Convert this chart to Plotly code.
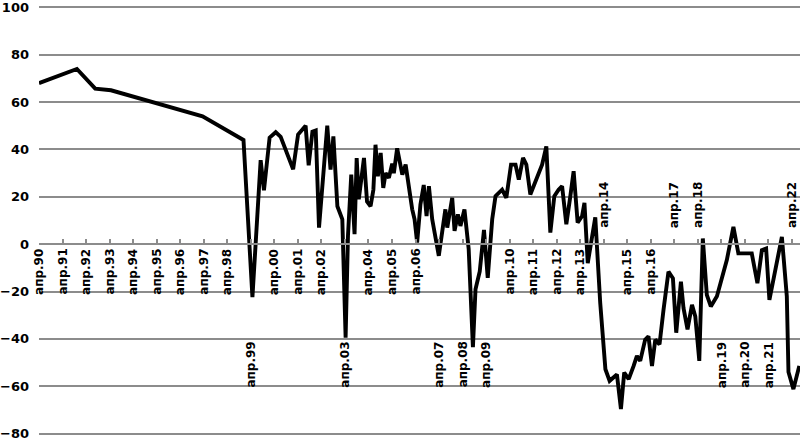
import plotly.graph_objects as go

# time as fractional years (апр.90 = 1990.25)
t = [1990.25, 1991.86, 1992.64, 1993.31, 1997.20, 1998.94,
     1999.32, 1999.67, 1999.81, 2000.05, 2000.31, 2000.52, 2001.05, 2001.26, 2001.58, 2001.71,
     2001.87, 2002.01, 2002.15, 2002.50, 2002.64, 2002.76, 2002.93, 2003.14, 2003.28, 2003.38,
     2003.52, 2003.66, 2003.75, 2003.84, 2004.06, 2004.19, 2004.34, 2004.46, 2004.55, 2004.65,
     2004.77, 2004.88, 2004.98, 2005.12, 2005.26, 2005.33, 2005.47, 2005.58, 2005.69, 2005.83,
     2005.97, 2006.11, 2006.21, 2006.32, 2006.46, 2006.60, 2006.72, 2006.82, 2006.96, 2007.24,
     2007.52, 2007.60, 2007.81, 2007.91, 2008.05, 2008.16, 2008.33, 2008.51, 2008.69, 2008.80,
     2008.98, 2009.16, 2009.32, 2009.51, 2009.65, 2009.93, 2010.11, 2010.31, 2010.50, 2010.64,
     2010.82, 2010.96, 2011.13, 2011.42, 2011.63, 2011.81, 2011.98, 2012.15, 2012.33, 2012.48,
     2012.66, 2012.83, 2012.97, 2013.14, 2013.33, 2013.43, 2013.57, 2013.89, 2014.10, 2014.32,
     2014.50, 2014.81, 2014.98, 2015.12, 2015.31, 2015.52, 2015.66, 2015.80, 2016.01, 2016.15,
     2016.30, 2016.44, 2016.62, 2016.79, 2017.00, 2017.19, 2017.33, 2017.53, 2017.64, 2017.81,
     2018.00, 2018.14, 2018.31, 2018.46, 2018.63, 2018.80, 2019.06, 2019.48, 2019.76, 2019.97,
     2020.54, 2020.78, 2020.97, 2021.15, 2021.29, 2021.82, 2022.03, 2022.10, 2022.31, 2022.56]

values = [68, 74, 65.7, 65, 54, 44,
          -22.4, 35.5, 22.8, 45, 47.3, 45.3, 31.6, 46.3, 50, 33.3,
          47.5, 48, 7, 50, 31.5, 45.5, 16, 10.5, -39.5, 3.5,
          29.4, 4.2, 36.4, 19, 36.4, 18, 16, 23, 42, 28.7,
          38.5, 23.8, 30, 28, 34, 30, 40.5, 34, 29.4, 33.6,
          23.8, 14.7, 10.5, 0.7, 16.8, 25, 11.9, 24.5, 10.5, -4.9,
          14.7, 7, 19.6, 5.6, 12.6, 7.7, 14.7, -2, -43.5, -19,
          -11.5, 6, -14.2, 10.5, 20.3, 23, 19.6, 33.6, 33.6, 27.3,
          36.4, 33.6, 21, 28.7, 33.6, 41.3, 4.9, 20.3, 23, 24.5,
          8.4, 20.3, 30.8, 9.1, 11.9, 17.5, -8, 11.3, -24.8, -52.8,
          -57.7, -55, -69.6, -54.2, -57, -51.4, -47.2, -49.3, -40.3, -38.9,
          -51.4, -40.3, -42.3, -27.7, -11.6, -14.4, -37.4, -15.8, -27, -36,
          -25.6, -30.5, -49.3, 2.4, -21.4, -26.3, -22, -6.7, 7.3, -3.9,
          -3.9, -16.5, -2.5, -1.8, -23.5, 3.1, -22, -54, -61.2, -51.4]

# x labels: text, year position, placement
label_years = list(range(1990, 2023))
label_texts = ["апр.%02d" % (y % 100) for y in label_years]
label_place = {1999: "low", 2003: "low", 2007: "low", 2008: "low", 2009: "low",
               2019: "low", 2020: "low", 2021: "low",
               2014: "above", 2017: "above", 2018: "above", 2022: "above"}

y_ticks = [-80, -60, -40, -20, 0, 20, 40, 60, 80, 100]

GRID = "#8c8c8c"
FONT = "DejaVu Sans"

fig = go.Figure()
fig.add_trace(go.Scatter(x=t, y=values, mode="lines",
                         line=dict(color="#000000", width=3.9),
                         showlegend=False, hoverinfo="skip"))

annotations = []
for yr, txt in zip(label_years, label_texts):
    xpos = yr + 0.25
    place = label_place.get(yr, "below")
    if place == "below":
        yv, ya = -1.6, "top"
    elif place == "low":
        yv, ya = -40.8, "top"
    else:
        yv, ya = 6.4, "bottom"
    annotations.append(dict(x=xpos, y=yv, xref="x", yref="y", text=txt,
                            textangle=-90, showarrow=False, xanchor="center",
                            yanchor=ya, borderpad=0,
                            font=dict(family=FONT, size=12, color="#000", weight="bold")))

fig.update_layout(
    width=800, height=441,
    margin=dict(l=38, r=0, t=4, b=4),
    plot_bgcolor="white", paper_bgcolor="white",
    annotations=annotations,
    xaxis=dict(range=[1990.25, 2022.59], showgrid=False, zeroline=False,
               anchor="free", position=81 / 182, side="bottom",
               showline=True, linecolor=GRID, linewidth=1.5,
               ticks="inside", ticklen=4, tickwidth=1.5, tickcolor=GRID,
               tickvals=[y + 0.25 for y in label_years], showticklabels=False),
    yaxis=dict(range=[-81, 101], tickvals=y_ticks, showgrid=True,
               gridcolor=GRID, gridwidth=1.5, zeroline=False, showline=False,
               ticks="", ticklabelstandoff=9, ticklabeloverflow="allow",
               tickfont=dict(family=FONT, size=13, color="#000", weight="bold")),
)

fig.write_html("out.html", config={"displayModeBar": False},
               post_script="document.body.style.margin='0px';")
